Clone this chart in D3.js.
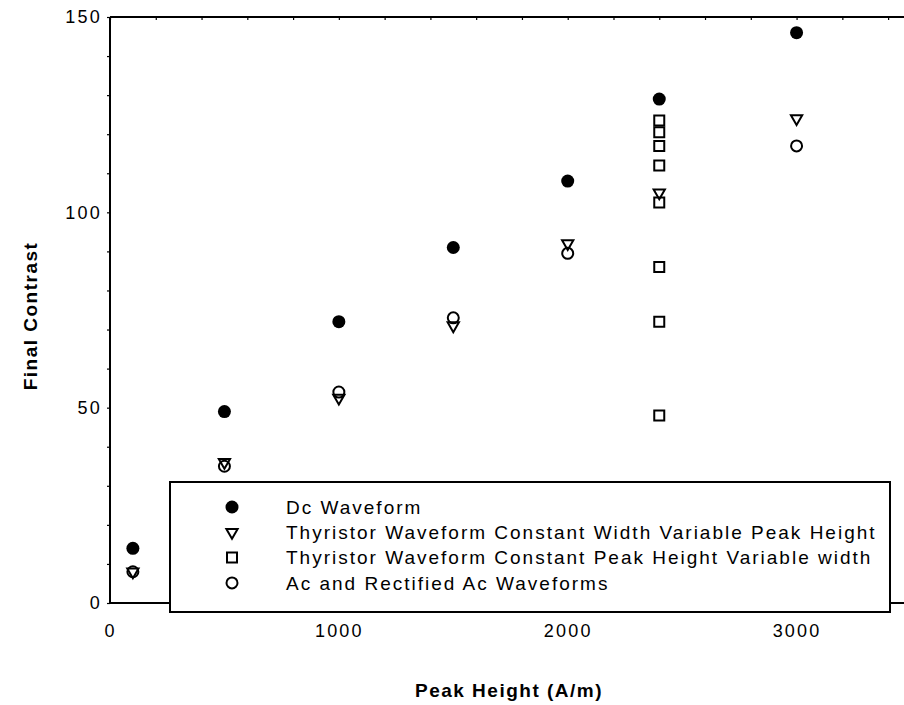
<!DOCTYPE html>
<html>
<head>
<meta charset="utf-8">
<script src="https://cdn.jsdelivr.net/npm/d3@7"></script>
<style>
  body { margin: 0; background: #fff; }
  text { font-family: "Liberation Sans", Arial, sans-serif; fill: #000; }
</style>
</head>
<body>
<script>
// Peak height (A/m) and final contrast for each waveform
var dcX = [100, 500, 1000, 1500, 2000, 2400, 3000];
var dcY = [14, 49, 72, 91, 108, 129, 146];

var thyWidthX = [100, 500, 1000, 1500, 2000, 2400, 3000];
var thyWidthY = [8, 36, 52.5, 71, 92, 105, 124];

var thyPeakX = [2400, 2400, 2400, 2400, 2400, 2400, 2400, 2400];
var thyPeakY = [123.5, 120.5, 117, 112, 102.5, 86, 72, 48];

var acX = [100, 500, 1000, 1500, 2000, 3000];
var acY = [8, 35, 54, 73, 89.5, 117];

var xTicks = [0, 1000, 2000, 3000];
var yTicks = [0, 50, 100, 150];

var legendLabels = [
  "Dc Waveform",
  "Thyristor Waveform Constant Width Variable Peak Height",
  "Thyristor Waveform Constant Peak Height Variable width",
  "Ac and Rectified Ac Waveforms"
];

var margin = { top: 17, right: 0, bottom: 102, left: 110 },
  width = 904 - margin.left - margin.right,
  height = 705 - margin.top - margin.bottom;

var svg = d3.select("body")
  .append("svg")
  .attr("width", 904)
  .attr("height", 705)
  .append("g")
  .attr("transform", "translate(" + margin.left + "," + margin.top + ")");

var x = d3.scaleLinear()
  .domain([0, 3500])
  .range([0, 801]);

var y = d3.scaleLinear()
  .domain([0, 150])
  .range([height, 0]);

// frame: top line, left axis, bottom axis
svg.append("line")
  .attr("x1", 0).attr("x2", width)
  .attr("y1", 0).attr("y2", 0)
  .attr("stroke", "#000").attr("stroke-width", 2);

// minor ticks
svg.append("g")
  .call(d3.axisBottom(x).tickValues(d3.range(0, 3600, 200)).tickSize(3).tickFormat(""))
  .call(function (g) { g.select(".domain").remove(); })
  .selectAll("line").attr("stroke-width", 1.2);

svg.append("g")
  .call(d3.axisLeft(y).tickValues(d3.range(0, 151, 10)).tickSize(3).tickFormat(""))
  .call(function (g) { g.select(".domain").remove(); })
  .selectAll("line").attr("stroke-width", 1.2);

var xAxis = svg.append("g")
  .attr("transform", "translate(0," + height + ")")
  .call(d3.axisBottom(x).tickValues(xTicks).tickSize(0).tickPadding(21).tickFormat(d3.format("d")));
xAxis.select(".domain").attr("stroke-width", 2).attr("d", "M0,0H" + width);
xAxis.selectAll("text")
  .style("font-size", "18px")
  .style("letter-spacing", "2.2px");

var yAxis = svg.append("g")
  .call(d3.axisLeft(y).tickValues(yTicks).tickSize(0).tickPadding(8).tickFormat(d3.format("d")));
yAxis.select(".domain").attr("stroke-width", 2).attr("d", "M0,0V" + height);
yAxis.selectAll("text")
  .style("font-size", "18px")
  .style("letter-spacing", "2.2px");

// axis titles
svg.append("text")
  .attr("x", 399)
  .attr("y", 690 - margin.top)
  .attr("dy", "0.35em")
  .attr("text-anchor", "middle")
  .style("font-size", "19px")
  .style("font-weight", "bold")
  .style("letter-spacing", "1.5px")
  .text("Peak Height (A/m)");

svg.append("text")
  .attr("transform", "translate(" + (30 - margin.left) + "," + (316 - margin.top) + ") rotate(-90)")
  .attr("dy", "0.35em")
  .attr("text-anchor", "middle")
  .style("font-size", "19px")
  .style("font-weight", "bold")
  .style("letter-spacing", "1.5px")
  .text("Final Contrast");

// markers
var triangle = d3.symbol().type(d3.symbolTriangle).size(55);
var square = d3.symbol().type(d3.symbolSquare).size(100);

function drawMarker(sel, kind) {
  if (kind == 0) {
    sel.append("circle").attr("r", 6.5).attr("fill", "#000");
  } else if (kind == 1) {
    sel.append("path").attr("d", triangle).attr("transform", "rotate(180)")
      .attr("fill", "none").attr("stroke", "#000").attr("stroke-width", 2);
  } else if (kind == 2) {
    sel.append("path").attr("d", square)
      .attr("fill", "none").attr("stroke", "#000").attr("stroke-width", 2);
  } else {
    sel.append("circle").attr("r", 5.5)
      .attr("fill", "none").attr("stroke", "#000").attr("stroke-width", 2);
  }
}

var series = [
  { xs: dcX, ys: dcY, kind: 0 },
  { xs: acX, ys: acY, kind: 3 },
  { xs: thyPeakX, ys: thyPeakY, kind: 2 },
  { xs: thyWidthX, ys: thyWidthY, kind: 1 }
];

series.forEach(function (s) {
  var pts = s.xs.map(function (d, i) { return [d, s.ys[i]]; });
  svg.append("g")
    .selectAll("g")
    .data(pts)
    .enter()
    .append("g")
    .attr("transform", function (d) { return "translate(" + x(d[0]) + "," + y(d[1]) + ")"; })
    .each(function () { drawMarker(d3.select(this), s.kind); });
});

// legend box
var legend = svg.append("g");
legend.append("rect")
  .attr("x", 60)
  .attr("y", 465)
  .attr("width", 720)
  .attr("height", 130)
  .attr("fill", "#fff")
  .attr("stroke", "#000")
  .attr("stroke-width", 2);

var rows = legend.selectAll(".row")
  .data(legendLabels)
  .enter()
  .append("g")
  .attr("class", "row")
  .attr("transform", function (d, i) { return "translate(122," + (490 + i * 25.3) + ")"; });

rows.each(function (d, i) { drawMarker(d3.select(this), i); });

rows.append("text")
  .attr("x", 54)
  .attr("dy", "0.35em")
  .style("font-size", "19px")
  .style("letter-spacing", "2px")
  .text(function (d) { return d; });
</script>
</body>
</html>
